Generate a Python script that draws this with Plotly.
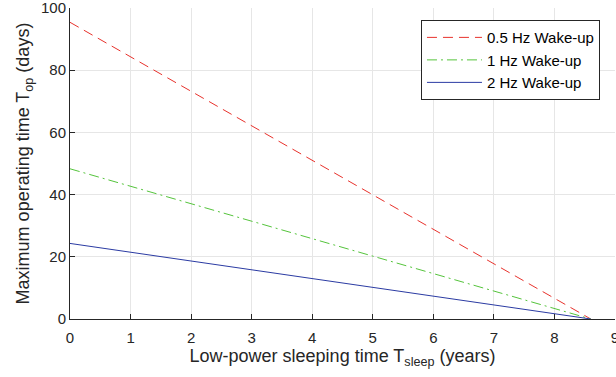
import plotly.graph_objects as go

x_sleep = [0, 8.6]
y_05hz = [95.4, 0]
y_1hz = [48.3, 0]
y_2hz = [24.3, 0]
names = ["0.5 Hz Wake-up", "1 Hz Wake-up", "2 Hz Wake-up"]
x_ticks = list(range(0, 10))
y_ticks = [0, 20, 40, 60, 80, 100]

font = "Liberation Sans, Arial, Helvetica, sans-serif"

fig = go.Figure()
fig.add_trace(go.Scatter(x=x_sleep, y=y_05hz, mode="lines", name=names[0],
                         line=dict(color="#e8322c", width=1, dash="10px,6px")))
fig.add_trace(go.Scatter(x=x_sleep, y=y_1hz, mode="lines", name=names[1],
                         line=dict(color="#55c43c", width=1, dash="10px,4px,2px,4px")))
fig.add_trace(go.Scatter(x=x_sleep, y=y_2hz, mode="lines", name=names[2],
                         line=dict(color="#2b3ba3", width=1)))

axis_common = dict(showgrid=True, gridcolor="#e6e6e6", gridwidth=1, zeroline=False,
                   showline=True, linecolor="#262626", linewidth=1,
                   ticks="inside", ticklen=5, tickcolor="#262626",
                   automargin=False, ticklabeloverflow="allow",
                   tickfont=dict(family=font, size=15, color="#262626"))

fig.update_xaxes(range=[0, 9], tickvals=x_ticks, ticklabelstandoff=5,
                 title=dict(text="Low-power sleeping time T<sub>sleep</sub> (years)",
                            font=dict(family=font, size=18, color="#262626"), standoff=2),
                 **axis_common)
fig.update_yaxes(range=[0, 100], tickvals=y_ticks,
                 title=dict(text="Maximum operating time T<sub>op</sub> (days)",
                            font=dict(family=font, size=18, color="#262626"), standoff=6),
                 **axis_common)

fig.update_layout(
    width=616, height=377,
    margin=dict(l=70, r=1, t=8, b=58),
    plot_bgcolor="white", paper_bgcolor="white",
    showlegend=True,
    legend=dict(x=0.644, y=0.961, xanchor="left", yanchor="top",
                bgcolor="white", bordercolor="#262626", borderwidth=1,
                font=dict(family=font, size=15, color="#000000"),
                tracegroupgap=0, itemwidth=55),
)

fig.write_html("out.html", config={"displayModeBar": False},
               post_script="document.body.style.margin='0';document.body.style.overflow='hidden';")
